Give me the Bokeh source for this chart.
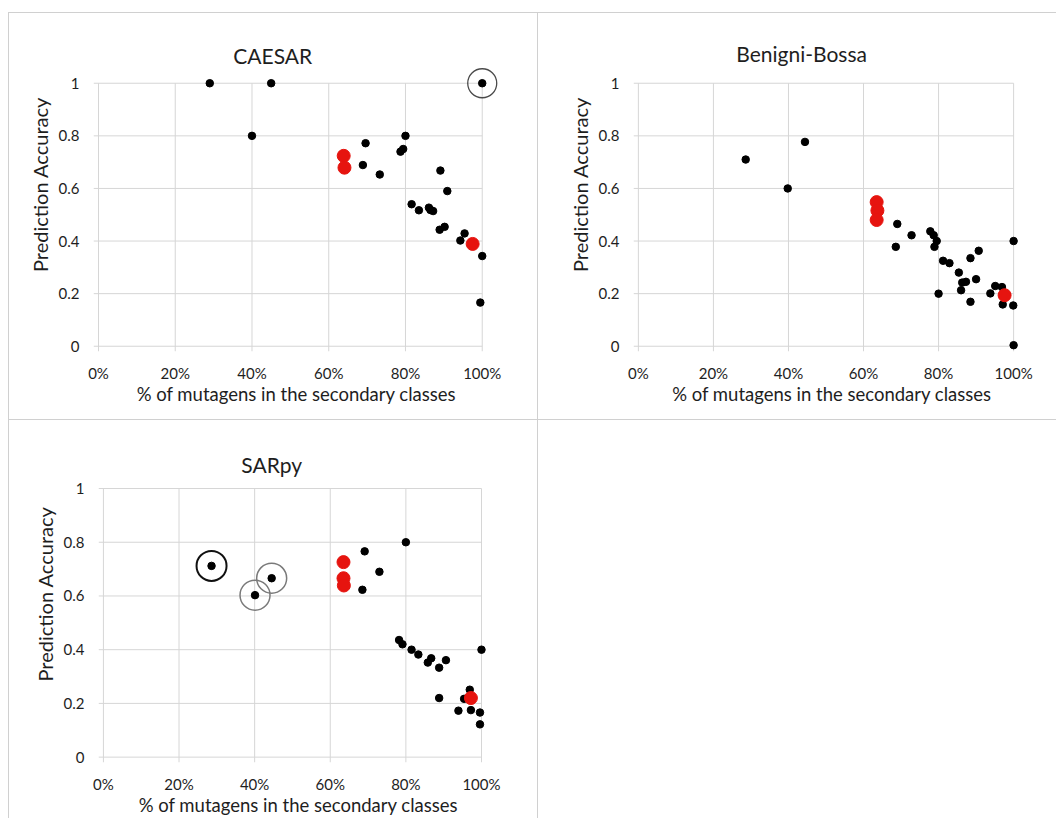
from bokeh.plotting import figure
from bokeh.layouts import column, row
from bokeh.models import Range1d, FixedTicker, Spacer, Label
from bokeh.embed import file_html
from bokeh.resources import INLINE

FONT = "Lato"

x_ticks = [0.0, 0.2, 0.4, 0.6, 0.8, 1.0]
x_tick_labels = ["0%", "20%", "40%", "60%", "80%", "100%"]
y_ticks = [0.0, 0.2, 0.4, 0.6, 0.8, 1.0]
y_tick_labels = ["0", "0.2", "0.4", "0.6", "0.8", "1"]

x_title = "% of mutagens in the secondary classes"
y_title = "Prediction Accuracy"

# CAESAR
caesar_x = [0.29, 0.45, 1.00, 0.40, 0.80, 0.696, 0.794, 0.787, 0.689, 0.733, 0.891, 0.909,
            0.816, 0.835, 0.861, 0.865, 0.872, 0.889, 0.902, 0.943, 0.954, 1.00, 0.995]
caesar_y = [1.0, 1.0, 1.0, 0.80, 0.80, 0.772, 0.75, 0.74, 0.689, 0.653, 0.668, 0.590,
            0.540, 0.517, 0.527, 0.518, 0.514, 0.443, 0.454, 0.402, 0.429, 0.343, 0.166]
caesar_red_x = [0.639, 0.641, 0.975]
caesar_red_y = [0.724, 0.679, 0.389]
caesar_ring_x = [1.0]
caesar_ring_y = [1.0]

# Benigni-Bossa
bb_x = [0.286, 0.444, 0.398, 0.690, 0.686, 0.728, 0.778, 0.787, 0.789, 0.795, 1.00, 0.812,
        0.829, 0.854, 0.885, 0.907, 0.863, 0.873, 0.860, 0.900, 0.80, 0.885, 0.938, 0.951,
        0.969, 0.971, 0.999, 1.00]
bb_y = [0.71, 0.777, 0.60, 0.465, 0.378, 0.422, 0.437, 0.422, 0.378, 0.40, 0.40, 0.325,
        0.316, 0.28, 0.335, 0.363, 0.242, 0.245, 0.213, 0.255, 0.20, 0.169, 0.201, 0.229,
        0.225, 0.159, 0.155, 0.004]
bb_red_x = [0.635, 0.637, 0.635, 0.976]
bb_red_y = [0.548, 0.516, 0.480, 0.194]

# SARpy
sar_x = [0.286, 0.401, 0.445, 0.80, 0.691, 0.730, 0.685, 0.782, 0.791, 0.815, 0.833,
         0.858, 0.867, 0.888, 0.906, 1.00, 0.888, 0.969, 0.954, 0.939, 0.972, 0.996, 0.996]
sar_y = [0.712, 0.603, 0.666, 0.80, 0.766, 0.690, 0.623, 0.436, 0.42, 0.40, 0.382,
         0.352, 0.368, 0.333, 0.361, 0.40, 0.22, 0.251, 0.217, 0.173, 0.175, 0.166, 0.122]
sar_red_x = [0.635, 0.635, 0.636, 0.972]
sar_red_y = [0.726, 0.666, 0.639, 0.22]
sar_ring_dark_x = [0.286]
sar_ring_dark_y = [0.712]
sar_ring_gray_x = [0.401, 0.445]
sar_ring_gray_y = [0.603, 0.666]

GRID = "#d6d6d6"
BORDER = "#d0d0d0"
RED = "#e6140f"
TEXT = "#1e1e1e"


def make_panel(title, w, h, ml, mr, mt, mb, y_end, title_x, title_lift, shadow):
    # the frame reaches up into the title area so the title can be placed freely
    xr = Range1d(-0.013, 1.045)
    yr = Range1d(-0.02, y_end)
    p = figure(width=w, height=h, x_range=xr, y_range=yr,
               min_border_left=ml, min_border_right=mr,
               min_border_top=mt, min_border_bottom=mb,
               output_backend="svg", toolbar_location=None, tools="")
    p.background_fill_alpha = 0
    p.border_fill_alpha = 0
    p.outline_line_color = None
    p.grid.visible = False
    p.styles = {"box-shadow": shadow}

    for ax, ticks, labels in ((p.xaxis, x_ticks, x_tick_labels), (p.yaxis, y_ticks, y_tick_labels)):
        ax.ticker = FixedTicker(ticks=ticks)
        ax.major_label_overrides = dict(zip(ticks, labels))
        ax.axis_line_color = None
        ax.major_tick_line_color = None
        ax.minor_tick_line_color = None
        ax.major_tick_out = 0
        ax.major_tick_in = 0
        ax.major_label_text_font = FONT
        ax.major_label_text_font_size = "15px"
        ax.major_label_text_color = TEXT
        ax.axis_label_text_font = FONT
        ax.axis_label_text_font_style = "normal"
        ax.axis_label_text_color = TEXT
    p.xaxis.axis_label = x_title
    p.yaxis.axis_label = y_title
    p.xaxis.axis_label_text_font_size = "18.5px"
    p.yaxis.axis_label_text_font_size = "20px"
    p.xaxis.major_label_standoff = 12
    p.xaxis.axis_label_standoff = -2
    p.yaxis.major_label_standoff = 14
    p.yaxis.axis_label_standoff = 4

    # gridlines drawn from the tick values, spanning only the 0..1 data box
    n = len(x_ticks)
    p.segment(x0=x_ticks, y0=[yr.start] * n, x1=x_ticks, y1=[1.0] * n,
              line_color=GRID, line_width=1)
    m = len(y_ticks)
    p.segment(x0=[xr.start] * m, y0=y_ticks, x1=[1.0] * m, y1=y_ticks,
              line_color=GRID, line_width=1)

    p.add_layout(Label(x=title_x, y=1.0, y_offset=title_lift, text=title,
                       text_align="center", text_baseline="alphabetic",
                       text_font=FONT, text_font_size="21px", text_color=TEXT))
    return p


def dots(p, bx, by, rx, ry):
    p.scatter(bx, by, size=7.5, fill_color="black", line_color="black")
    p.scatter(rx, ry, size=13, fill_color=RED, line_color=RED)


p1 = make_panel("CAESAR", 530, 408, 85, 39, 5, 69, 1.25, 0.454, 28,
                f"inset 1px 1px 0 0 {BORDER}, inset -1px -1px 0 0 {BORDER}")
dots(p1, caesar_x, caesar_y, caesar_red_x, caesar_red_y)
p1.scatter(caesar_ring_x, caesar_ring_y, size=29, fill_color=None,
           line_color="#4a4a4a", line_width=1.3)

p2 = make_panel("Benigni-Bossa", 518, 408, 95, 26, 5, 69, 1.25, 0.435, 30,
                f"inset 0 1px 0 0 {BORDER}, inset 0 -1px 0 0 {BORDER}")
dots(p2, bb_x, bb_y, bb_red_x, bb_red_y)

p3 = make_panel("SARpy", 530, 398, 90, 40, 5, 55, 1.2346, 0.445, 24,
                f"inset 1px 0 0 0 {BORDER}, inset -1px 0 0 0 {BORDER}")
dots(p3, sar_x, sar_y, sar_red_x, sar_red_y)
p3.scatter(sar_ring_dark_x, sar_ring_dark_y, size=30, fill_color=None,
           line_color="#111111", line_width=2)
p3.scatter(sar_ring_gray_x, sar_ring_gray_y, size=30, fill_color=None,
           line_color="#7a7a7a", line_width=1.5)

p4 = Spacer(width=518, height=398)

grid = column(Spacer(height=12), row(p1, p2), row(p3, p4))
layout = row(Spacer(width=8), grid)

open("out.html", "w").write(file_html(layout, INLINE))
